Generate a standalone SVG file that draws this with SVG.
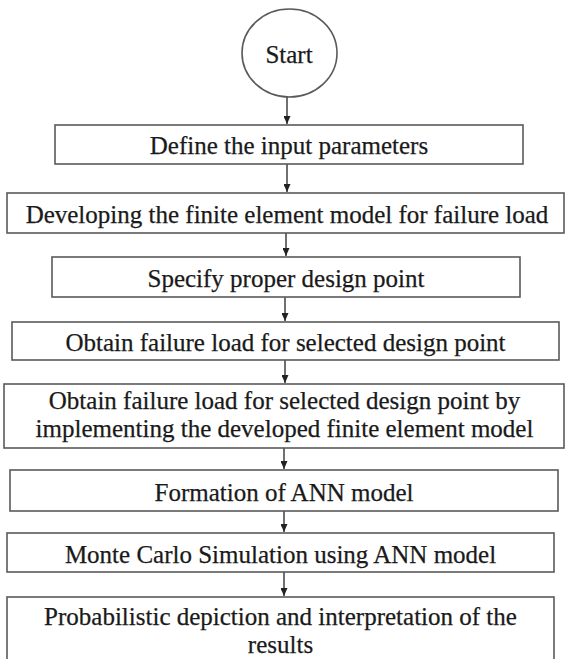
<svg xmlns="http://www.w3.org/2000/svg" width="566" height="659" viewBox="0 0 566 659">
<style>
.box{fill:#fff;stroke:#5a5a5a;stroke-width:1.6}
.t{font-family:"Liberation Serif","Times New Roman",serif;font-size:25px;fill:#1a1a1a;stroke:#1a1a1a;stroke-width:0.25;text-anchor:middle}
.c{stroke:#333;stroke-width:1.4;fill:none;marker-end:url(#ah)}
</style>
<defs>
<marker id="ah" markerUnits="userSpaceOnUse" markerWidth="8" markerHeight="7" refX="8" refY="3.5" orient="auto" viewBox="0 0 8 7">
<path d="M0,0 L8,3.5 L0,7 Z" fill="#222"/>
</marker>
</defs>
<rect width="566" height="659" fill="#fff"/>
<g id="connectors">
<line class="c" x1="287" y1="97" x2="287" y2="124"/>
<line class="c" x1="287" y1="164" x2="287" y2="192"/>
<line class="c" x1="286" y1="233" x2="286" y2="256"/>
<line class="c" x1="285" y1="297" x2="285" y2="321"/>
<line class="c" x1="285" y1="360" x2="285" y2="383"/>
<line class="c" x1="284" y1="448" x2="284" y2="469"/>
<line class="c" x1="284" y1="511" x2="284" y2="532"/>
<line class="c" x1="284" y1="572" x2="284" y2="596"/>
</g>
<g id="start">
<ellipse class="box" cx="289.5" cy="53" rx="47.5" ry="44"/>
<text class="t" x="289" y="63">Start</text>
</g>
<g id="n1">
<rect class="box" x="55" y="125" width="468" height="39"/>
<text class="t" x="289" y="154">Define the input parameters</text>
</g>
<g id="n2">
<rect class="box" x="7" y="193" width="557" height="40"/>
<text class="t" x="287" y="223">Developing the finite element model for failure load</text>
</g>
<g id="n3">
<rect class="box" x="52" y="257" width="468" height="40"/>
<text class="t" x="286" y="287">Specify proper design point</text>
</g>
<g id="n4">
<rect class="box" x="12" y="322" width="547" height="38"/>
<text class="t" x="285.5" y="351">Obtain failure load for selected design point</text>
</g>
<g id="n5">
<rect class="box" x="4" y="384" width="560" height="64"/>
<text class="t" x="284.5" y="409">Obtain failure load for selected design point by</text>
<text class="t" x="284.5" y="437">implementing the developed finite element model</text>
</g>
<g id="n6">
<rect class="box" x="10" y="470" width="548" height="41"/>
<text class="t" x="284" y="501">Formation of ANN model</text>
</g>
<g id="n7">
<rect class="box" x="7" y="533" width="547" height="39"/>
<text class="t" x="280.5" y="563">Monte Carlo Simulation using ANN model</text>
</g>
<g id="n8">
<rect class="box" x="7" y="597" width="547" height="70"/>
<text class="t" x="280.5" y="625">Probabilistic depiction and interpretation of the</text>
<text class="t" x="280.5" y="653">results</text>
</g>
</svg>
